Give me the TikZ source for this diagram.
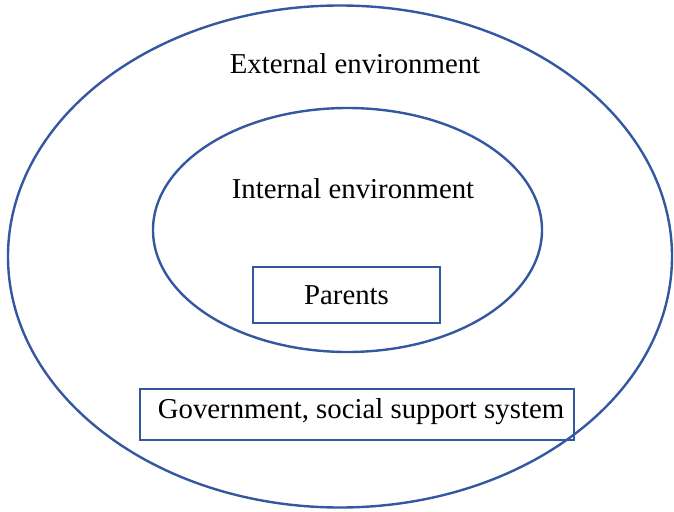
\documentclass[tikz,border=0pt]{standalone}
\usepackage{fontspec}
\setmainfont{Liberation Serif}
\usetikzlibrary{shapes.geometric}
\definecolor{ringblue}{RGB}{52,88,160}
\tikzset{every path/.style={ringblue,line width=2.4pt}, ring/.style={draw,ellipse,inner sep=0pt}, label text/.style={black,font=\fontsize{28.8}{34}\selectfont,inner sep=0pt}, box/.style={draw,rectangle,inner sep=0pt}}

\begin{document}
\begin{tikzpicture}[x=1pt,y=-1pt]
   \useasboundingbox (0,0) rectangle (674,511);
   \node[ring,minimum width=664pt,minimum height=502pt] (outer) at (340,256.5) {};
   \node[ring,minimum width=389pt,minimum height=244pt] (inner) at (347.5,230) {};
   \node[label text] (ext) at (355,64) {External environment};
   \node[label text] (int) at (353,189) {Internal environment};
   \node[box,minimum width=187pt,minimum height=56pt] (parents) at (346.5,295) {};
   \node[label text] at (parents.center) {Parents};
   \node[box,minimum width=434pt,minimum height=51pt] (gov) at (357,414.5) {};
   \node[label text] at (361,412) {Government, social support system};
\end{tikzpicture}
\end{document}
